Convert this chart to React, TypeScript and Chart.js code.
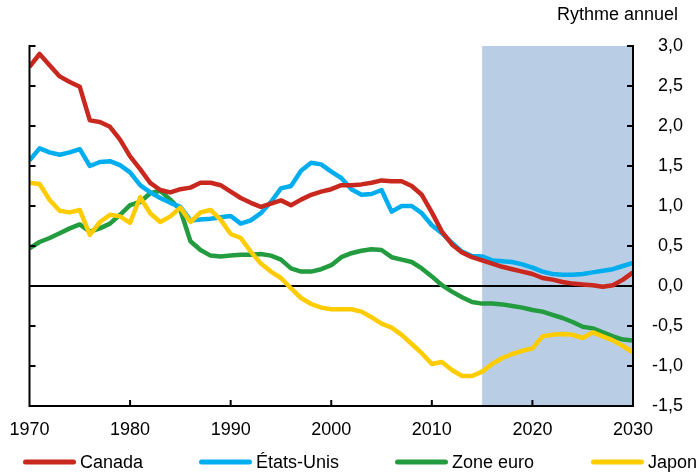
import React, { useEffect, useRef } from 'react';
import { Chart, registerables } from 'chart.js';

Chart.register(...registerables);

const YEARS: number[] = Array.from({ length: 61 }, (_, i) => 1970 + i);

const CANADA = [
  2.74, 2.90, 2.76, 2.62, 2.55, 2.49, 2.07, 2.05, 1.99, 1.83,
  1.62, 1.46, 1.29, 1.20, 1.17, 1.21, 1.23, 1.29, 1.29, 1.26,
  1.18, 1.10, 1.04, 0.99, 1.03, 1.07, 1.01, 1.08, 1.14, 1.18,
  1.21, 1.26, 1.26, 1.27, 1.29, 1.32, 1.31, 1.31, 1.25, 1.14,
  0.92, 0.68, 0.52, 0.42, 0.36, 0.32, 0.28, 0.24, 0.21, 0.18,
  0.15, 0.10, 0.08, 0.05, 0.03, 0.02, 0.01, -0.01, 0.01, 0.08,
  0.17,
];

const ETATS_UNIS = [
  1.57, 1.72, 1.67, 1.64, 1.67, 1.71, 1.50, 1.55, 1.56, 1.51,
  1.42, 1.26, 1.17, 1.10, 1.04, 0.99, 0.82, 0.83, 0.84, 0.86,
  0.875, 0.78, 0.82, 0.91, 1.05, 1.22, 1.25, 1.44, 1.54, 1.52,
  1.43, 1.35, 1.21, 1.14, 1.15, 1.20, 0.93, 1.00, 1.00, 0.91,
  0.76, 0.66, 0.54, 0.43, 0.375, 0.37, 0.32, 0.31, 0.30, 0.27,
  0.23, 0.18, 0.15, 0.14, 0.14, 0.15, 0.17, 0.19, 0.21, 0.25,
  0.29,
];

const ZONE_EURO = [
  0.47, 0.55, 0.60, 0.66, 0.72, 0.77, 0.68, 0.72, 0.78, 0.89,
  1.01, 1.05, 1.16, 1.19, 1.08, 0.95, 0.56, 0.45, 0.38, 0.37,
  0.38, 0.39, 0.39, 0.40, 0.38, 0.33, 0.22, 0.18, 0.18, 0.21,
  0.26, 0.36, 0.41, 0.44, 0.46, 0.45, 0.36, 0.33, 0.30, 0.22,
  0.12, 0.01, -0.07, -0.14, -0.20, -0.22, -0.22, -0.23, -0.25, -0.27,
  -0.30, -0.32, -0.36, -0.40, -0.45, -0.51, -0.53, -0.58, -0.63, -0.67,
  -0.68,
];

const JAPON = [
  1.29, 1.275, 1.075, 0.94, 0.92, 0.95, 0.64, 0.80, 0.89, 0.87,
  0.79, 1.11, 0.91, 0.80, 0.87, 0.98, 0.80, 0.92, 0.95, 0.83,
  0.65, 0.60, 0.43, 0.28, 0.18, 0.10, -0.03, -0.15, -0.225, -0.27,
  -0.29, -0.29, -0.29, -0.32, -0.39, -0.47, -0.52, -0.61, -0.725, -0.84,
  -0.975, -0.95, -1.05, -1.125, -1.125, -1.07, -0.975, -0.90, -0.85, -0.81,
  -0.78, -0.63, -0.61, -0.60, -0.61, -0.65, -0.58, -0.63, -0.68, -0.75,
  -0.83,
];

const SERIES_NAMES = ['Canada', 'États-Unis', 'Zone euro', 'Japon'];
const SERIES_VALUES = [CANADA, ETATS_UNIS, ZONE_EURO, JAPON];
const SERIES_COLORS = ['#C8281E', '#00AEEF', '#239B3F', '#FFCC00'];
const SERIES_ORDER = [1, 2, 3, 0];

const X_TICKS = [1970, 1980, 1990, 2000, 2010, 2020, 2030];
const Y_TICKS = [-1.5, -1.0, -0.5, 0.0, 0.5, 1.0, 1.5, 2.0, 2.5, 3.0];
const X_MIN = 1970;
const X_MAX = 2030;
const Y_MIN = -1.5;
const Y_MAX = 3.0;
const PROJECTION_START = 2015;
const AXIS_TITLE = 'Rythme annuel';

const FONT_FAMILY = '"Liberation Sans", Arial, Helvetica, sans-serif';
const FONT_SIZE = 18;
const SHADE = '#B9CDE5';
const LEGEND_X = [23, 199, 395, 591];
const LEGEND_Y = 462;

const decorPlugin = {
  id: 'decor',
  beforeDatasetsDraw(chart: any) {
    const { ctx, chartArea: a, scales } = chart;
    const x = scales.x;
    const y = scales.y;
    ctx.save();
    const x0 = x.getPixelForValue(PROJECTION_START);
    const x1 = x.getPixelForValue(X_MAX);
    ctx.fillStyle = SHADE;
    ctx.fillRect(x0, a.top, x1 - x0, a.bottom - a.top);
    const yz = y.getPixelForValue(0);
    ctx.strokeStyle = '#000';
    ctx.lineWidth = 2;
    ctx.beginPath();
    ctx.moveTo(a.left, yz);
    ctx.lineTo(a.right, yz);
    ctx.stroke();
    ctx.restore();
  },
  afterDatasetsDraw(chart: any) {
    const { ctx, chartArea: a, scales } = chart;
    const x = scales.x;
    const y = scales.y;
    const tl = 6;
    ctx.save();
    ctx.strokeStyle = '#000';
    ctx.lineWidth = 2;
    ctx.lineCap = 'butt';
    ctx.beginPath();
    ctx.moveTo(a.left, a.top - 1);
    ctx.lineTo(a.left, a.bottom + 1);
    ctx.moveTo(a.right, a.top - 1);
    ctx.lineTo(a.right, a.bottom + 1);
    ctx.moveTo(a.left - 1, a.bottom);
    ctx.lineTo(a.right + 1, a.bottom);
    for (const t of y.ticks) {
      const py = y.getPixelForValue(t.value);
      ctx.moveTo(a.left, py);
      ctx.lineTo(a.left + tl, py);
      ctx.moveTo(a.right, py);
      ctx.lineTo(a.right - tl, py);
    }
    for (const t of x.ticks) {
      const px = x.getPixelForValue(t.value);
      ctx.moveTo(px, a.bottom);
      ctx.lineTo(px, a.bottom - tl);
    }
    ctx.stroke();
    ctx.restore();
  },
  afterDraw(chart: any) {
    const { ctx } = chart;
    ctx.save();
    ctx.font = `${FONT_SIZE}px ${FONT_FAMILY}`;
    ctx.fillStyle = '#000';
    ctx.textAlign = 'right';
    ctx.textBaseline = 'alphabetic';
    ctx.fillText(AXIS_TITLE, 678, 20);

    ctx.textAlign = 'left';
    ctx.textBaseline = 'middle';
    SERIES_NAMES.forEach((name, i) => {
      const sx = LEGEND_X[i];
      ctx.strokeStyle = SERIES_COLORS[i];
      ctx.lineWidth = 5;
      ctx.lineCap = 'round';
      ctx.beginPath();
      ctx.moveTo(sx + 2.5, LEGEND_Y);
      ctx.lineTo(sx + 50.5, LEGEND_Y);
      ctx.stroke();
      ctx.fillStyle = '#000';
      ctx.fillText(name, sx + 57, LEGEND_Y + 1);
    });
    ctx.restore();
  },
};

export default function App() {
  const ref = useRef<HTMLCanvasElement>(null);

  useEffect(() => {
    document.body.style.margin = '0';
    const canvas = ref.current;
    if (!canvas) return;
    const datasets = SERIES_NAMES.map((name, i) => ({
      label: name,
      data: YEARS.map((yr, j) => ({ x: yr, y: SERIES_VALUES[i][j] })),
      borderColor: SERIES_COLORS[i],
      backgroundColor: SERIES_COLORS[i],
      borderWidth: 4.5,
      pointRadius: 0,
      pointHoverRadius: 0,
      tension: 0,
      fill: false,
      borderJoinStyle: 'round' as const,
      order: SERIES_ORDER[i],
    }));

    const chart = new Chart(canvas, {
      type: 'line',
      data: { datasets },
      plugins: [decorPlugin],
      options: {
        animation: false,
        responsive: false,
        devicePixelRatio: 1,
        layout: { padding: { left: 29.5, top: 46, right: 15, bottom: 0 } },
        plugins: {
          legend: { display: false },
          tooltip: { enabled: false },
          title: { display: false },
        },
        scales: {
          x: {
            type: 'linear',
            min: X_MIN,
            max: X_MAX,
            afterBuildTicks: (s: any) => {
              s.ticks = X_TICKS.map((v) => ({ value: v }));
            },
            afterFit: (s: any) => {
              s.height = 66;
              s.paddingLeft = 0;
              s.paddingRight = 0;
            },
            ticks: {
              callback: (v: any) => String(v),
              font: { family: FONT_FAMILY, size: FONT_SIZE },
              color: '#000',
              padding: 13,
              maxRotation: 0,
              autoSkip: false,
            },
            grid: { display: false, drawTicks: false },
            border: { display: false },
          },
          y: {
            type: 'linear',
            position: 'right',
            min: Y_MIN,
            max: Y_MAX,
            afterBuildTicks: (s: any) => {
              s.ticks = Y_TICKS.map((v) => ({ value: v }));
            },
            afterFit: (s: any) => {
              s.width = 50;
            },
            ticks: {
              callback: (v: any) => Number(v).toFixed(1).replace('.', ','),
              font: { family: FONT_FAMILY, size: FONT_SIZE },
              color: '#000',
              crossAlign: 'far',
              padding: 5,
              autoSkip: false,
            },
            grid: { display: false, drawTicks: false },
            border: { display: false },
          },
        },
      } as any,
    });
    return () => chart.destroy();
  }, []);

  return (
    <div style={{ position: 'absolute', left: 0, top: 0, width: 698, height: 472 }}>
      <canvas ref={ref} width={698} height={472} style={{ display: 'block', width: 698, height: 472 }} />
    </div>
  );
}
